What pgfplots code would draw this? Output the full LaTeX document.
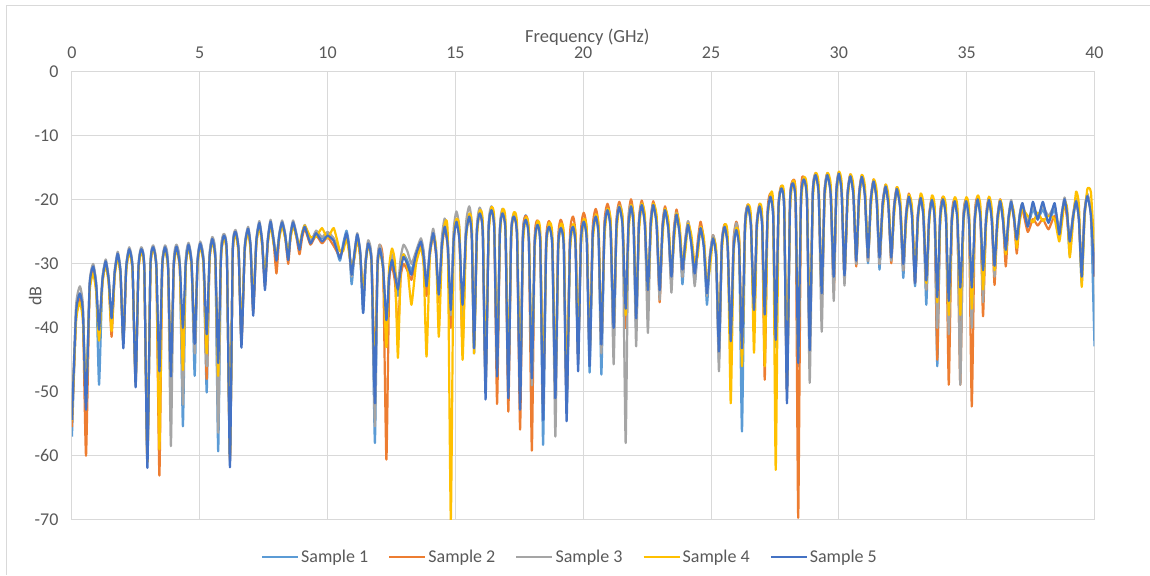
\documentclass[border=0pt]{standalone}
\usepackage{pgfplots}
\pgfplotsset{compat=1.18}
\usepackage{pgfplotstable}
\usepackage{fontspec}
\setmainfont{Carlito}
\definecolor{sone}{HTML}{5B9BD5}
\definecolor{stwo}{HTML}{ED7D31}
\definecolor{sthree}{HTML}{A5A5A5}
\definecolor{sfour}{HTML}{FFC000}
\definecolor{sfive}{HTML}{4472C4}
\definecolor{txt}{HTML}{595959}
\definecolor{gridc}{HTML}{D9D9D9}

\pgfplotstableread{
x a b c d e
0.00 -57 -55.5 -54 -54.5 -54.4
0.16 -38 -38.5 -36.5 -39 -37.6
0.31 -35 -35.5 -33.5 -36 -34.6
0.43 -38 -38.5 -36.5 -39 -37.6
0.55 -51 -60 -52 -51 -52.8
0.69 -33.5 -34 -33 -34.5 -33.4
0.83 -30.5 -31 -30 -31.5 -30.4
0.95 -33.5 -34 -33 -34.5 -33.4
1.06 -48.9 -41 -40.5 -42 -40.3
1.19 -32.6 -32.9 -32.3 -33.2 -32.6
1.32 -29.6 -29.9 -29.3 -30.2 -29.6
1.44 -32.6 -32.9 -32.3 -33.2 -32.6
1.55 -40 -41.4 -39 -40.5 -38.5
1.67 -31.4 -31.7 -31.1 -32 -31.4
1.79 -28.4 -28.7 -28.1 -29 -28.4
1.90 -31.4 -31.7 -31.1 -32 -31.4
2.01 -42.5 -42 -42.5 -42 -43.2
2.12 -30.7 -31 -30.4 -31.2 -30.7
2.24 -27.7 -28 -27.4 -28.2 -27.7
2.37 -30.7 -31 -30.4 -31.2 -30.7
2.49 -48 -48.5 -49 -48 -49.3
2.60 -30.7 -31 -30.4 -31.2 -30.7
2.71 -27.7 -28 -27.4 -28.2 -27.7
2.83 -30.7 -31 -30.4 -31.2 -30.7
2.95 -60 -61 -60.5 -61 -61.9
3.07 -30.4 -30.7 -30.1 -30.9 -30.4
3.18 -27.4 -27.7 -27.1 -27.9 -27.4
3.30 -30.4 -30.7 -30.1 -30.9 -30.4
3.42 -47 -63.1 -48 -59 -46.8
3.53 -30.4 -30.7 -30.1 -30.9 -30.4
3.64 -27.4 -27.7 -27.1 -27.9 -27.4
3.76 -30.4 -30.7 -30.1 -30.9 -30.4
3.87 -50 -49 -58.5 -47 -47.6
3.98 -30.3 -30.6 -30 -30.8 -30.3
4.09 -27.3 -27.6 -27 -27.8 -27.3
4.22 -30.3 -30.6 -30 -30.8 -30.3
4.34 -55.4 -44 -52 -46.6 -40
4.45 -30 -30.3 -29.7 -30.5 -30
4.56 -27 -27.3 -26.7 -27.5 -27
4.68 -30 -30.3 -29.7 -30.5 -30
4.80 -47.5 -43 -44 -41.5 -42.5
4.91 -29.8 -30.1 -29.5 -30.3 -29.8
5.02 -26.8 -27.1 -26.5 -27.3 -26.8
5.15 -29.8 -30.1 -29.5 -30.3 -29.8
5.27 -50.1 -48 -46 -44 -41
5.38 -29.1 -29.4 -28.8 -29.6 -29.1
5.49 -26.1 -26.4 -25.8 -26.6 -26.1
5.61 -29.1 -29.4 -28.8 -29.6 -29.1
5.72 -59.3 -48 -56.4 -47.5 -45.5
5.83 -28.6 -28.9 -28.3 -29.1 -28.6
5.94 -25.6 -25.9 -25.3 -26.1 -25.6
6.06 -28.6 -28.9 -28.3 -29.1 -28.6
6.18 -60 -60.5 -61 -60 -61.8
6.29 -28 -28.3 -27.7 -28.5 -28
6.40 -25 -25.3 -24.7 -25.5 -25
6.52 -28 -28.3 -27.7 -28.5 -28
6.63 -42 -42.5 -42 -41 -43.1
6.76 -27.5 -27.8 -27.2 -28 -27.5
6.89 -24.5 -24.8 -24.2 -25 -24.5
6.99 -27.5 -27.8 -27.2 -28 -27.5
7.09 -37 -37.5 -37 -36 -38.1
7.21 -26.6 -26.9 -26.3 -27.1 -26.6
7.33 -23.6 -23.9 -23.3 -24.1 -23.6
7.44 -26.6 -26.9 -26.3 -27.1 -26.6
7.55 -33 -33.5 -33 -32 -34.1
7.66 -26.4 -26.7 -26.1 -26.9 -26.4
7.77 -23.4 -23.7 -23.1 -23.9 -23.4
7.89 -26.4 -26.7 -26.1 -26.9 -26.4
8.00 -29 -31.5 -29 -28.5 -29.5
8.11 -25.5 -25.8 -25.2 -26 -25.5
8.22 -23.5 -23.8 -23.2 -24 -23.5
8.34 -25.5 -25.8 -25.2 -26 -25.5
8.46 -29 -30 -29 -28 -29.4
8.55 -25.5 -25.8 -25.2 -26 -25.5
8.65 -23.5 -23.8 -23.2 -24 -23.5
8.78 -25.5 -25.8 -25.2 -25.8 -25.5
8.90 -27.5 -28.5 -27.5 -27 -27.8
9.00 -25.5 -26 -25.3 -25.2 -25.5
9.11 -24.2 -24.5 -23.9 -24 -24.2
9.33 -26.5 -27 -26.5 -25.8 -26.8
9.55 -25 -25.5 -24.8 -25.8 -25.2
9.78 -26 -26.8 -25.8 -24.4 -26.5
10.00 -25.3 -25.8 -25 -26 -25.6
10.24 -26.3 -27.2 -26 -24.4 -26.4
10.48 -29.5 -28.8 -28 -28 -29.1
10.61 -26.8 -27.6 -27.5 -28 -27.2
10.74 -24.8 -25.6 -25.5 -26 -25.2
10.84 -27 -27.8 -27.7 -28.2 -27.4
10.94 -33.2 -31 -32 -30.5 -31.7
11.05 -28.5 -29 -28.2 -29 -28.4
11.16 -25.5 -26 -25.2 -26 -25.4
11.28 -28.5 -29 -28.2 -29 -28.4
11.39 -37.6 -35 -36 -34.5 -37.7
11.49 -29.8 -29.5 -29.3 -30 -29.8
11.59 -26.8 -26.5 -26.3 -27 -26.8
11.72 -29.8 -29.5 -29.3 -30 -29.8
11.85 -58 -47 -55.4 -48 -51.8
11.95 -30.6 -30 -30 -31 -30.6
12.04 -27.6 -27 -27 -28 -27.6
12.17 -30.6 -30 -30 -31 -30.6
12.30 -40 -60.6 -40 -43 -38.8
12.41 -31.5 -33 -31 -30.6 -31.9
12.52 -29 -30.5 -28.5 -27.6 -29.4
12.64 -31.5 -33 -31 -30.1 -31.9
12.75 -35 -40.8 -33.5 -44.7 -34
12.86 -30.5 -32 -29 -31 -30.9
12.97 -28.5 -30 -27 -28.5 -28.9
13.12 -29.5 -31 -28 -30.5 -30
13.28 -31 -32.5 -30 -36.4 -31.7
13.46 -28.5 -29 -28 -30 -28.5
13.65 -26.5 -27 -26 -27.5 -26.5
13.76 -28.5 -29.5 -28 -30.5 -29
13.87 -34 -35 -33 -44.5 -33.5
14.00 -28 -28.5 -27.5 -29 -28.2
14.13 -25 -25.5 -24.5 -25.5 -25.2
14.24 -28 -28.5 -27.5 -27.5 -28.2
14.35 -36 -36 -35 -41.4 -34.8
14.47 -27 -27.5 -25.9 -28.3 -27.2
14.58 -24 -24.5 -22.9 -23.8 -24.2
14.70 -27 -27.5 -25.9 -25.6 -27.2
14.82 -38 -40 -38 -70 -37.2
14.93 -26.2 -26.4 -24.8 -27.5 -26.4
15.04 -23.2 -23.4 -21.8 -23 -23.4
15.16 -26.2 -26.4 -24.8 -24.8 -26.4
15.28 -38 -42.9 -40 -45 -36.4
15.41 -25.4 -25.6 -24 -26.7 -25.6
15.54 -22.4 -22.6 -21 -22.2 -22.6
15.64 -25.4 -25.6 -24 -24 -25.6
15.73 -44 -42 -42 -44 -43.2
15.84 -24.9 -25.1 -24.2 -26.2 -25.1
15.95 -21.9 -22.1 -21.2 -21.7 -22.1
16.07 -24.9 -25.1 -24.2 -23.5 -25.1
16.18 -48 -49 -50 -47 -51.2
16.30 -24.4 -24.6 -24 -25.7 -24.6
16.41 -21.4 -21.6 -21 -21.2 -21.6
16.52 -24.4 -24.6 -24 -23 -24.6
16.63 -46 -51.9 -46 -45 -47.6
16.74 -24.9 -25.1 -24.4 -26 -25.1
16.84 -21.9 -22.1 -21.4 -21.5 -22.1
16.96 -24.9 -25.1 -24.4 -23.3 -25.1
17.07 -50 -53.1 -48 -47 -51
17.18 -25.4 -25.6 -25.2 -26.5 -25.6
17.28 -22.4 -22.6 -22.2 -22 -22.6
17.41 -25.4 -25.6 -25.2 -23.8 -25.6
17.53 -51 -55.9 -50 -48 -52.8
17.64 -25.4 -25.5 -25.9 -27.3 -26.1
17.75 -22.4 -22.5 -22.9 -22.8 -23.1
17.87 -25.4 -25.5 -25.9 -24.6 -26.1
17.99 -48 -59.2 -49 -46 -47.9
18.10 -26.9 -26.2 -26.7 -27.9 -26.9
18.21 -23.9 -23.2 -23.7 -23.4 -23.9
18.32 -26.9 -26.2 -26.7 -25.2 -26.9
18.43 -58.3 -52 -50 -49 -54.4
18.55 -27.2 -26.3 -27 -28.1 -27.2
18.66 -24.2 -23.3 -24 -23.6 -24.2
18.79 -27.2 -26.3 -27 -25.4 -27.2
18.91 -50 -50 -57 -48 -51
19.02 -27.4 -26.1 -27.2 -28.3 -27.4
19.12 -24.4 -23.1 -24.2 -23.8 -24.4
19.24 -27.4 -26.1 -27.2 -25.6 -27.4
19.35 -53 -52 -52 -50 -54.6
19.48 -27.2 -25.6 -27 -28.3 -27.2
19.60 -24.2 -22.6 -24 -23.8 -24.2
19.70 -27.2 -25.6 -27 -25.6 -27.2
19.80 -45 -45 -44 -43 -46.8
19.91 -26.4 -25 -26.2 -27.5 -26.4
20.02 -23.4 -22 -23.2 -23 -23.4
20.14 -26.4 -25 -26.2 -24.8 -26.4
20.25 -47 -44 -44 -43 -46
20.37 -25.6 -24.4 -25.4 -26.8 -25.6
20.49 -22.6 -21.4 -22.4 -22.3 -22.6
20.60 -25.6 -24.4 -25.4 -24.1 -25.6
20.71 -47.3 -43 -44 -41 -42.6
20.83 -24.6 -23.6 -24.4 -25.9 -24.6
20.95 -21.6 -20.6 -21.4 -21.4 -21.6
21.07 -24.6 -23.6 -24.4 -23.2 -24.6
21.19 -42 -41 -45.7 -39 -40
21.30 -24.1 -23.3 -23.9 -25.5 -24.1
21.41 -21.1 -20.3 -20.9 -21 -21.1
21.54 -24.1 -23.3 -23.9 -22.8 -24.1
21.66 -40 -40 -58 -38 -37
21.77 -24 -22.9 -23.8 -25.3 -24
21.87 -21 -19.9 -20.8 -20.8 -21
21.97 -24 -22.9 -23.8 -22.6 -24
22.07 -40 -39 -42.9 -37 -38.5
22.18 -23.8 -23.1 -23.6 -25.1 -23.8
22.29 -20.8 -20.1 -20.6 -20.6 -20.8
22.41 -23.8 -23.1 -23.6 -22.4 -23.8
22.53 -36 -36 -40.8 -34 -34.1
22.64 -23.8 -23.2 -23.6 -25.1 -23.8
22.74 -20.8 -20.2 -20.6 -20.6 -20.8
22.87 -23.8 -23.2 -23.6 -22.4 -23.8
22.99 -35 -36 -35.6 -33 -34.1
23.10 -24.6 -24 -24.4 -25.9 -24.6
23.20 -21.6 -21 -21.4 -21.4 -21.6
23.33 -24.6 -24 -24.4 -23.2 -24.6
23.45 -33 -33 -34.5 -31 -32
23.55 -25.3 -24.5 -25 -26.6 -25.3
23.65 -22.3 -21.5 -22 -22.1 -22.3
23.77 -25.3 -24.5 -25 -23.9 -25.3
23.88 -33.2 -32 -32 -30 -30.9
23.99 -26.9 -26.4 -26.3 -28.2 -26.9
24.10 -23.9 -23.4 -23.3 -23.7 -23.9
24.23 -26.9 -26.4 -26.3 -25.5 -26.9
24.36 -33 -32 -33.5 -30 -31.5
24.48 -27.4 -26.4 -27.2 -28.7 -27.4
24.59 -24.4 -23.4 -24.2 -24.2 -24.4
24.72 -27.4 -26.4 -27.2 -26 -27.4
24.84 -36.4 -34 -35 -33 -34.6
24.96 -29 -28.5 -28.5 -30.5 -29
25.08 -26 -25.5 -25.5 -26 -26
25.20 -29 -28.5 -28.5 -27.8 -29
25.31 -45 -44 -46.8 -42 -43.7
25.42 -27.2 -26.8 -27 -28.4 -27.2
25.53 -24.2 -23.8 -24 -23.9 -24.2
25.65 -27.2 -26.8 -27 -25.7 -27.2
25.77 -43 -43 -42 -51.8 -42.1
25.88 -27.7 -26.4 -26.6 -28.9 -27.7
25.99 -24.7 -23.4 -23.6 -24.4 -24.7
26.10 -27.7 -26.4 -26.6 -26.2 -27.7
26.21 -56.2 -44 -44 -46 -43.2
26.33 -24 -23.7 -23.8 -25.3 -24
26.44 -21 -20.7 -20.8 -20.8 -21
26.56 -24 -23.7 -23.8 -22.6 -24
26.68 -38 -38 -38 -43.9 -37.2
26.79 -24 -23.6 -23.8 -25.2 -24
26.90 -21 -20.6 -20.8 -20.7 -21
27.00 -24 -23.6 -23.8 -22.5 -24
27.10 -39 -48.1 -38 -46 -37.9
27.21 -22.5 -22 -22.3 -23.7 -22.5
27.32 -19.5 -19 -19.3 -19.2 -19.5
27.43 -22.5 -22 -22.3 -21 -22.5
27.53 -43 -42 -42 -62.2 -41.9
27.64 -21.2 -20.8 -21 -22.4 -21.2
27.75 -18.2 -17.8 -18 -17.9 -18.2
27.86 -21.2 -20.8 -21 -19.7 -21.2
27.97 -50 -50 -49 -48 -51.8
28.09 -20.4 -20 -20.2 -21.6 -20.4
28.20 -17.4 -17 -17.2 -17.1 -17.4
28.31 -20.4 -20 -20.2 -18.9 -20.4
28.41 -46 -69.7 -44 -44 -45.5
28.52 -19.8 -19.5 -19.6 -21 -19.8
28.63 -16.8 -16.5 -16.6 -16.5 -16.8
28.75 -19.8 -19.5 -19.6 -18.3 -19.8
28.86 -42 -43 -48.6 -40 -43.5
28.98 -19.1 -18.8 -18.9 -20.3 -19.1
29.09 -16.1 -15.8 -15.9 -15.8 -16.1
29.21 -19.1 -18.8 -18.9 -17.6 -19.1
29.33 -35 -36 -40.6 -34 -34.6
29.44 -19.1 -18.8 -18.9 -20.3 -19.1
29.55 -16.1 -15.8 -15.9 -15.8 -16.1
29.68 -19.1 -18.8 -18.9 -17.6 -19.1
29.80 -33 -34.5 -35.8 -31 -32
29.90 -18.9 -18.6 -18.7 -20.1 -18.9
30.00 -15.9 -15.6 -15.7 -15.6 -15.9
30.11 -18.9 -18.6 -18.7 -17.4 -18.9
30.22 -32 -32 -33.4 -31 -31.8
30.34 -19.3 -19 -19.1 -20.5 -19.3
30.45 -16.3 -16 -16.1 -16 -16.3
30.57 -19.3 -19 -19.1 -17.8 -19.3
30.68 -30 -30.4 -30 -29 -29.5
30.79 -19.4 -19.1 -19.2 -20.6 -19.4
30.90 -16.4 -16.1 -16.2 -16.1 -16.4
31.02 -19.4 -19.1 -19.2 -17.9 -19.4
31.14 -29.9 -29.5 -29.5 -28.5 -29
31.25 -20.1 -19.8 -19.9 -21.3 -20.1
31.36 -17.1 -16.8 -16.9 -16.8 -17.1
31.48 -20.1 -19.8 -19.9 -18.6 -20.1
31.59 -30.9 -30 -30 -28.5 -29
31.71 -20.9 -20.6 -20.7 -22.1 -20.9
31.83 -17.9 -17.6 -17.7 -17.6 -17.9
31.94 -20.9 -20.6 -20.7 -19.4 -20.9
32.05 -29.5 -29.9 -29.5 -28.5 -29
32.16 -21.3 -21 -21.1 -22.5 -21.3
32.27 -18.3 -18 -18.1 -18 -18.3
32.40 -21.3 -21 -21.1 -19.8 -21.3
32.52 -32.2 -31 -31 -29.5 -30
32.63 -22.5 -22 -22.3 -23.7 -22.5
32.74 -19.5 -19 -19.3 -19.2 -19.5
32.86 -22.5 -22 -22.3 -21 -22.5
32.98 -33.5 -33 -33 -32 -33
33.09 -22.7 -22.3 -22.5 -23.5 -22.7
33.20 -19.7 -19.3 -19.5 -19 -19.7
33.31 -22.7 -22.3 -22.5 -20.8 -22.7
33.42 -36.4 -34 -34 -33 -32.6
33.53 -23 -22.6 -22.8 -23.8 -23
33.64 -20 -19.6 -19.8 -19.3 -20
33.75 -23 -22.6 -22.8 -21.1 -23
33.85 -46 -45 -40 -36 -35.2
33.96 -22.9 -22.5 -22.7 -24 -22.9
34.07 -19.9 -19.5 -19.7 -19.5 -19.9
34.19 -22.9 -22.5 -22.7 -21.3 -22.9
34.30 -40 -48.9 -41 -38 -35.8
34.42 -23.2 -22.8 -23 -24.1 -23.2
34.53 -20.2 -19.8 -20 -19.6 -20.2
34.64 -23.2 -22.8 -23 -21.4 -23.2
34.75 -45 -48.9 -48.9 -38 -33.7
34.87 -23.2 -22.8 -23 -24.1 -23.2
34.98 -20.2 -19.8 -20 -19.6 -20.2
35.09 -23.2 -22.8 -23 -21.4 -23.2
35.20 -38 -52.3 -40 -37 -33.7
35.32 -22.9 -22.5 -22.7 -23.8 -22.9
35.43 -19.9 -19.5 -19.7 -19.3 -19.9
35.54 -22.9 -22.5 -22.7 -21.1 -22.9
35.64 -33 -38.2 -36 -34 -31
35.76 -23 -22.6 -22.8 -24 -23
35.87 -20 -19.6 -19.8 -19.5 -20
35.98 -23 -22.6 -22.8 -21.3 -23
36.09 -31 -33.3 -32 -31 -30.3
36.20 -23.2 -22.9 -23 -24.5 -23.2
36.31 -20.2 -19.9 -20 -20 -20.2
36.42 -23.2 -22.9 -23 -21.8 -23.2
36.53 -29 -30.4 -28 -28.5 -27.8
36.64 -22.8 -23 -22.5 -23.5 -22.8
36.74 -20.5 -20.5 -20 -20.5 -20.3
36.85 -22.8 -23 -22.5 -22 -22.8
36.96 -27 -28.4 -26.5 -27.5 -26.2
37.07 -22.5 -23 -22.3 -23.5 -22.7
37.18 -20.8 -21.5 -20.5 -21.5 -20.5
37.39 -24 -25 -23.5 -22.5 -24.2
37.59 -21.5 -23 -21 -23.5 -20.3
37.78 -23 -24 -22.5 -22 -23.1
37.98 -21.5 -23 -21 -23.3 -20.3
38.20 -23.5 -24.6 -22.5 -22.5 -23.6
38.44 -21.5 -22.5 -21 -23 -20.5
38.62 -25.5 -25 -24.5 -26.5 -25.4
38.73 -22 -22.5 -21.8 -23.5 -22
38.83 -20 -20.5 -19.6 -20.3 -19.9
38.93 -22.3 -23 -22 -21.3 -22.2
39.03 -28.6 -27 -26.5 -29 -26.5
39.16 -23 -22.5 -22.3 -23.5 -22.7
39.28 -20.2 -20 -19.8 -18.7 -20.2
39.39 -23 -23 -22.8 -20.8 -23
39.50 -33 -31 -30.5 -33.6 -32
39.61 -22.5 -22 -21.8 -23 -22.2
39.72 -19.4 -19.2 -19 -18.3 -19.4
39.86 -22.5 -22 -22 -18.8 -22.4
40.00 -42.9 -32 -30 -28 -32
}\data

\begin{document}
\begin{tikzpicture}
\path (-72bp,-55bp) rectangle (1078bp,520bp);
\draw[gridc, line width=1bp] (-65bp,-55bp) -- (-65bp,514bp) -- (1078bp,514bp);
\begin{axis}[
  at={(0,0)}, anchor=south west,
  scale only axis, width=1023bp, height=448bp,
  xmin=0, xmax=40, ymin=-70, ymax=0,
  xtick={0,5,...,40}, ytick={-70,-60,...,0},
  xticklabels={0,5,10,15,20,25,30,35,40},
  yticklabels={-70,-60,-50,-40,-30,-20,-10,0},
  xticklabel pos=upper,
  major tick length=0pt,
  grid=major,
  major grid style={draw=gridc, line width=1bp},
  axis line style={draw=gridc, line width=1bp},
  xticklabel style={font=\fontsize{18bp}{21bp}\selectfont, text=txt, anchor=center, yshift=19bp},
  yticklabel style={font=\fontsize{18bp}{21bp}\selectfont, text=txt, anchor=east, xshift=-10bp},
  xlabel={Frequency (GHz)},
  xlabel style={at={(axis description cs:0.504,1.078)}, anchor=center, font=\fontsize{18.5bp}{21bp}\selectfont, text=txt},
  ylabel={dB},
  ylabel style={at={(axis description cs:-0.036,0.5)}, anchor=center, font=\fontsize{18bp}{21bp}\selectfont, text=txt},
  no markers,
  every axis plot/.append style={line width=2.2bp, smooth, tension=0.3, line join=round},
  legend image code/.code={\draw[#1, line width=2.2bp] (0bp,0bp) -- (36bp,0bp);},
  legend style={at={(axis description cs:0.487,-0.0826)}, anchor=center, draw=none, fill=none,
    font=\fontsize{18bp}{21bp}\selectfont, text=txt, legend columns=-1,
    /tikz/every even column/.append style={column sep=18bp},
    nodes={inner sep=2bp}},
]
\addplot[color=sone] table[x=x,y=a]{\data};
\addlegendentry{Sample 1}
\addplot[color=stwo] table[x=x,y=b]{\data};
\addlegendentry{Sample 2}
\addplot[color=sthree] table[x=x,y=c]{\data};
\addlegendentry{Sample 3}
\addplot[color=sfour] table[x=x,y=d]{\data};
\addlegendentry{Sample 4}
\addplot[color=sfive] table[x=x,y=e]{\data};
\addlegendentry{Sample 5}
\end{axis}
\end{tikzpicture}
\end{document}
